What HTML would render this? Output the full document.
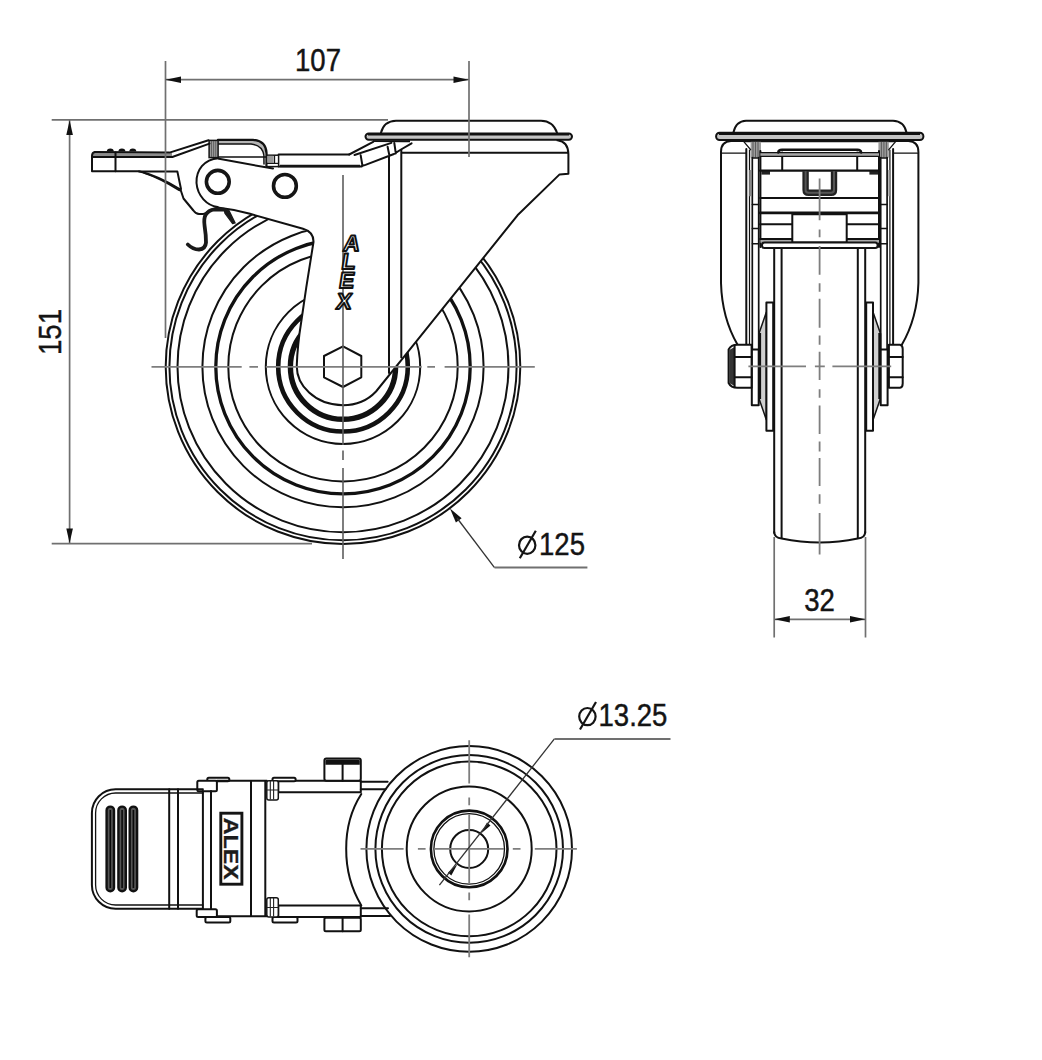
<!DOCTYPE html>
<html><head><meta charset="utf-8">
<style>
html,body{margin:0;padding:0;background:#fff;overflow:hidden}
svg{display:block}
.k{fill:none;stroke:#111;stroke-width:2;stroke-linejoin:round;stroke-linecap:round}
.kw{fill:#fff;stroke:#111;stroke-width:2;stroke-linejoin:round}
.t{fill:none;stroke:#151515;stroke-width:2.6;stroke-linecap:round}
.d{fill:none;stroke:#707070;stroke-width:1.7}
.c{fill:none;stroke:#7e7e7e;stroke-width:1.8}
.ar{fill:#111;stroke:none}
text{font-family:"Liberation Sans",sans-serif;fill:#141414;stroke:#141414;stroke-width:0.45}
</style></head><body>
<svg width="1042" height="1060" viewBox="0 0 1042 1060">
<rect x="0" y="0" width="1042" height="1060" fill="#fff"/>

<!-- ================= LEFT VIEW ================= -->
<g id="left">
  <!-- wheel circles -->
  <g class="k">
    <circle cx="343" cy="366.7" r="177.3"/>
    <circle cx="343" cy="366.7" r="173.6"/>
    <circle cx="343" cy="366.7" r="165.5"/>
    <circle cx="343" cy="366.7" r="140.6"/>
    <circle cx="343" cy="366.7" r="127.2" stroke-width="3.3"/>
    <circle cx="343" cy="366.7" r="114.7"/>
    <circle cx="343" cy="366.7" r="77.2"/>
    <circle cx="343" cy="366.7" r="64.8" stroke-width="4.6"/>
    <circle cx="343" cy="366.7" r="52.6" stroke-width="5.4"/>
  </g>
  <!-- occluder: fork + plate + lever -->
  <path fill="#fff" stroke="none" d="M92,152 L168,152.5 L207,140.5 L253,139.8 Q266,142 266.5,153 L349,154.3 L373,141.5 L566,140 Q569,143 569,152 L568.4,173.8 L559.6,174.4 L517.5,215.3 L376,391.5 C368,400 356,405.2 343,405.2 C315,405.2 296,385 296.8,365 Q297.5,345 301.2,322 L306.2,287.8 L313.5,242 Q314,233 304.7,230.6 L250,213.8 Q235,209.5 217.6,207.8 L210.2,210.5 Q207,213 202.8,214.1 L199,214.1 Q196,214 193.4,210.5 L183,198 L180,189 C168,182 155,175 139,171.3 L92,171.3 Z"/>

  <!-- fork outline -->
  <path class="k" d="M217.6,207.5 Q235,209.5 250,213.8 L303,228.8 Q313.8,232 313.5,242 L306.2,287.8 L301.2,322 Q297.5,345 296.8,365 C296,385 315,405.2 343,405.2 C356,405.2 368,400 376,391.5 L402.5,358.7 L517.5,215.3 L559.6,174.4 L568.4,173.8 L568.4,154 Q568,141.5 557.5,140.3"/>
  <!-- stem lines -->
  <line class="k" x1="389" y1="155" x2="389" y2="373"/>
  <line class="k" x1="401.3" y1="149.5" x2="401.3" y2="357.5"/>
  <!-- horizontal head line -->
  <line class="k" x1="402" y1="152.8" x2="568" y2="152.8"/>
  <!-- top plate -->
  <path class="k" d="M381,132.8 Q384,121 396,120.8 L541,120.8 Q553,121 557,132.8"/>
  <!-- flange -->
  <rect class="kw" x="365.5" y="133.4" width="206.5" height="6.4" rx="3.2" style="fill:#c4c4c4"/>
  <line x1="368" y1="134.2" x2="569" y2="134.2" stroke="#111" stroke-width="2.4"/>
  <line x1="373" y1="141.2" x2="410" y2="141.2" stroke="#111" stroke-width="2"/>
  <!-- wedge (lever end) -->
  <path fill="#fff" d="M349.2,154.3 L373.2,141.9 L411.6,143.3 L401,149.5 L393.3,154.3 L365.5,164.9 L361.7,165.9 L349.2,165.9 Z"/>
  <path class="k" d="M349.2,154.5 L373.2,141.9 M354.5,155 L391.4,142.9 M361.7,166 L365.5,164.9 L393.3,154.3 L401,149.5 L411.6,143.3 M360.7,155.3 L362.3,164.9 M387.6,146.7 L389.2,154.5 M394.3,143 L395.8,153.4"/>
  <!-- top bar -->
  <path class="k" d="M278.6,154.6 L349.2,154.6 M278.6,166.4 L361.7,166.4"/>
  <line x1="280" y1="166" x2="360" y2="166" stroke="#151515" stroke-width="2.4"/>
  <!-- hooked lever top bar -->
  <path fill="#b4b4b4" stroke="none" d="M218,140.5 L253,140.5 Q265,142 265.8,153 L263.9,154.2 Q262,144 251,144 L218,144 Z"/>
  <path class="k" d="M218,139.8 L253,139.8 Q266,141 266.5,153 L266.5,166.3" style="stroke-width:2.3"/>
  <path class="k" d="M218,144 L251,144 Q262,145 263.9,155 L264,164 M218,157 L266.5,157" style="stroke-width:1.5"/>
  <!-- hatched blocks -->
  <rect x="209.1" y="140.4" width="9" height="17.2" fill="#9a9a9a" stroke="#151515" stroke-width="1.5"/>
  <path d="M211.5,141 V157 M213.6,141 V157 M215.7,141 V157" stroke="#555" stroke-width="0.8"/>
  <rect x="266.8" y="155.2" width="11.8" height="11.4" fill="#fff" stroke="#151515" stroke-width="1.5"/>
  <rect x="267.5" y="155.8" width="6" height="7" fill="#9a9a9a"/>
  <line x1="274.5" y1="155.5" x2="274.5" y2="163" stroke="#151515" stroke-width="1.3"/>
  <line x1="267" y1="163.4" x2="278.4" y2="163.4" stroke="#151515" stroke-width="1.2"/>
  <!-- lever arm -->
  <path fill="#8c8c8c" stroke="none" d="M93,153 L168,153.2 L172,153 L172,156.8 L93,156.8 Z"/>
  <path class="k" d="M95,152 L169.5,152.6 L208.5,140.3 M92.5,157 L172.3,157 L209.5,143.6"/>
  <path class="k" d="M95,152 Q92,152.3 92,156 L92,171.3 L139,171.3 C155,175 168,182 180.5,189.5 L183.5,198.5 L193.4,210.5 Q196,214 199,214.1 L202.8,214.1 Q207,213 210.2,210.5 L217.6,207.5"/>
  <line class="k" x1="115.5" y1="152.4" x2="115.5" y2="171.3"/>
  <path class="k" d="M144,173 C158,177.5 169,184 179.5,190.5" style="stroke-width:1.5"/>
  <path class="k" d="M139,171.6 L177.4,171.6 L181,189"/>
  <path class="ar" d="M106.8,151.6 A3.5,3.2 0 0 1 113.8,151.6 Z M118.4,151.6 A3.5,3.2 0 0 1 125.4,151.6 Z M129.3,151.6 A3.5,3.2 0 0 1 136.3,151.6 Z"/>
  <!-- pivot plate -->
  <path class="k" d="M219,158.8 L273,168.6"/>
  <path class="k" d="M218.5,158.3 C204,159.5 196,170 196.5,183 C197.5,196 207,205.5 217.6,207"/>
  <circle cx="217.8" cy="181.8" r="11.4" fill="none" stroke="#151515" stroke-width="3.6"/>
  <circle cx="284.9" cy="185.9" r="11.4" fill="none" stroke="#151515" stroke-width="3.6"/>
  <!-- spring -->
  <path fill="none" stroke="#1a1a1a" stroke-width="3.8" stroke-linecap="round" stroke-linejoin="round" d="M187.8,244.5 Q193,249.5 199,249.5 Q205.5,249 206,242.5 Q206,235 204.6,226 Q203.6,218.5 205.5,215 Q208.5,210 214.5,209.3 L224,209.6"/>
  <path fill="#1a1a1a" stroke="#1a1a1a" stroke-width="1.2" stroke-linejoin="round" d="M224,209 L229,210.5 L235.2,223 L232.6,223.6 L225,213.5 Z"/>
  <!-- hex nut -->
  <path class="kw" d="M343,346.3 L361.3,356 L361.3,377.3 L343,387 L324,377.3 L324,356 Z"/>
  <!-- centerlines -->
  <g class="c">
    <path d="M151.5,366.9 H241.7 M249.4,366.9 H258 M265.7,366.9 H421.6 M427.3,366.9 H435 M444.6,366.9 H534.8"/>
    <path d="M343,175 V445 M343,450.5 V460 M343,468 V559" style="stroke:#5e5e5e;stroke-width:1.6"/>
  </g>
  <!-- ALEX side logo -->
  <g font-family="Liberation Sans" font-weight="bold" font-size="22.5">
    <text transform="translate(342.6,251) skewX(-9)" style="fill:#fff;stroke:#111;stroke-width:2;stroke-linejoin:round">A</text>
    <text transform="translate(340.8,269) skewX(-9)" style="fill:#fff;stroke:#111;stroke-width:2;stroke-linejoin:round">L</text>
    <text transform="translate(338.3,287.8) skewX(-9)" style="fill:#fff;stroke:#111;stroke-width:2;stroke-linejoin:round">E</text>
    <text transform="translate(335.6,308.8) skewX(-9)" style="fill:#fff;stroke:#111;stroke-width:2;stroke-linejoin:round">X</text>
  </g>
</g>

<!-- ================= RIGHT VIEW ================= -->
<g id="right">
  <!-- top plate -->
  <path class="k" d="M733.4,132.5 Q736,121 746,120.7 L893,120.7 Q904,121 906.5,132.5"/>
  <rect class="kw" x="716.1" y="132.8" width="207.3" height="7.2" rx="3.5" style="fill:#c4c4c4"/>
  <line x1="719" y1="133.8" x2="920" y2="133.8" stroke="#111" stroke-width="2.4"/>
  <line x1="745" y1="141.2" x2="894" y2="141.2" stroke="#111" stroke-width="2"/>
  <g id="rhalf">
    <!-- outer fork curve -->
    <path class="k" d="M745,141.1 L731,141.1 Q721,141.5 721,152 L721,283 Q722,318 737.6,344.8"/>
    <line class="k" x1="722" y1="153.2" x2="746" y2="153.2" style="stroke-width:1.2"/>
    <!-- leg lines -->
    <path d="M750.6,141.8 H761 V157.7 H750.6 Z" fill="#9c9c9c"/>
    <path d="M753,142 V157.5 M755.5,142 V157.5 M758,142 V157.5" stroke="#555" stroke-width="0.9"/>
    <line class="k" x1="746.3" y1="149" x2="746.3" y2="344.8" style="stroke-width:2"/>
    <line class="k" x1="749.5" y1="150" x2="749.5" y2="344.8" style="stroke-width:1.2"/>
    <path d="M749.2,170 H751 V196.2 H749.2 Z" fill="#888"/>
    <line class="k" x1="752.3" y1="157.7" x2="752.3" y2="349.4" style="stroke-width:1.7"/>
    <line class="k" x1="758.7" y1="157.7" x2="758.7" y2="349.4" style="stroke-width:1.7"/>
    <path class="k" d="M752.3,158 H758.7 M752.3,204.5 H758.7 M752.3,228.5 H758.7 M752.3,243.8 H758.7" style="stroke-width:1.4"/>
    <path class="k" d="M744,141.8 L750.6,149.7" style="stroke-width:1.3"/>
    <!-- inner box wall -->
    <line class="k" x1="760.4" y1="151" x2="760.4" y2="247"/>
    <path class="k" d="M782.2,152.5 V170"/>
    <rect x="761.4" y="171.1" width="8.6" height="3.5" fill="#222"/>
    <rect x="760.4" y="239.1" width="32" height="3.6" fill="#aaa"/>
    <path class="k" d="M760.1,224.3 H792.3 M760.1,239.1 H792.3"/>
    <!-- tire lines -->
    <line class="k" x1="774.2" y1="249" x2="774.2" y2="533"/>
    <line class="k" x1="781.6" y1="249" x2="781.6" y2="538"/>
    <!-- hub -->
    <path d="M766.4,312 L758.8,334 L758.8,398 L766.4,420 Z" fill="#cfcfcf" stroke="#151515" stroke-width="1.5"/>
    <line x1="759.8" y1="333" x2="759.8" y2="399" stroke="#111" stroke-width="2.6"/>
    <rect class="kw" x="766.4" y="302.6" width="6.8" height="128.2"/>
    <!-- washer -->
    <rect class="kw" x="751.8" y="349.4" width="6.9" height="55.8"/>
  </g>
  <use href="#rhalf" transform="translate(1639.4,0) scale(-1,1)"/>
  <!-- left nut (with chamfer) -->
  <path class="kw" d="M737.3,344.8 L751.6,344.8 L751.6,387.8 L737.3,387.8 Q731,387.8 728.6,383 L728.6,349.5 Q731,344.8 737.3,344.8 Z"/>
  <path d="M729.2,350 L734.6,347 L734.6,386 L729.2,383 Z" fill="#333"/>
  <path class="k" d="M734.6,357 H751.6 M734.6,377.2 H751.6 M734.6,346 V387"/>
  <!-- right nut -->
  <path class="kw" d="M888.9,344.8 L900,344.8 Q902.7,345.5 902.7,349 L902.7,383.5 Q902.7,387.3 900,387.8 L888.9,387.8 Z"/>
  <path class="k" d="M888.9,357 H902.7 M888.9,377.2 H902.7"/>
  <!-- inner structure -->
  <rect x="760.4" y="152.6" width="118.6" height="3.8" fill="#a8a8a8"/>
  <path class="k" d="M760.4,152.6 H879 M760.4,156.4 H879" style="stroke-width:1.4"/>
  <path class="k" d="M778.2,152.5 Q778.5,149.8 782,149.8 L857.5,149.8 Q860.8,149.8 861.2,152.5" style="stroke-width:2.4"/>
  <line class="k" x1="760.1" y1="170.6" x2="879.1" y2="170.6" style="stroke-width:2.4"/>
  <path d="M805.6,171.3 L805.6,190 Q805.6,192.8 808.5,192.8 L831.2,192.8 Q834,192.8 834,190 L834,171.3" fill="none" stroke="#222" stroke-width="6.4"/>
  <path d="M805.6,171.3 L805.6,190 Q805.6,192.8 808.5,192.8 L831.2,192.8 Q834,192.8 834,190 L834,171.3" fill="none" stroke="#555" stroke-width="2"/>
  <line class="k" x1="760.1" y1="198.1" x2="879.1" y2="198.1"/>
  <line class="k" x1="760.1" y1="212.9" x2="879.1" y2="212.9" style="stroke-width:2.6"/>
  <rect class="kw" x="792.3" y="214.3" width="54.4" height="28.2"/>
  <rect x="762" y="242.5" width="115.6" height="5.4" rx="2.5" fill="#fff" stroke="#151515" stroke-width="2"/>
  <!-- tire bottom -->
  <path class="k" d="M774.2,532 Q774.5,538 781.6,538.5 Q820,546.5 857.8,538.5 Q865,538 865.2,532"/>
  <!-- centerlines -->
  <path class="c" d="M748.4,366.4 H806 M814.9,366.4 H824.8 M832.4,366.4 H891.2"/>
  <path class="c" d="M819.6,178.5 V220.2 M819.6,229.4 V237.2 M819.6,246.0 V274.7 M819.6,283.2 V291.7 M819.6,298.8 V327.7 M819.6,335.5 V344.7 M819.6,351.8 V380.1 M819.6,389.3 V397.8 M819.6,405.6 V433.9 M819.6,441.6 V451.5 M819.6,458.0 V486.0 M819.6,494.3 V503.7 M819.6,513.0 V554.5"/>
</g>

<!-- ================= BOTTOM VIEW ================= -->
<g id="bottom">
  <!-- circles -->
  <g class="k">
    <circle cx="469.2" cy="848.9" r="102.8"/>
    <circle cx="469.2" cy="848.9" r="93.8"/>
    <circle cx="469.2" cy="848.9" r="87.3"/>
    <circle cx="469.2" cy="848.9" r="62.5"/>
    <circle cx="469.2" cy="848.9" r="38.3" stroke-width="2.6"/>
    <circle cx="469.2" cy="848.9" r="35.3" stroke-width="1.3"/>
    <circle cx="469.2" cy="848.9" r="19"/>
  </g>
  <path class="c" d="M360.5,848.9 H403.6 M417.9,848.9 H425.6 M434.5,848.9 H504 M512.8,848.9 H520.5 M534.8,848.9 H576.9"/>
  <path class="c" d="M469.2,740.2 V783.4 M469.2,797.6 V805.3 M469.2,814.2 V883.7 M469.2,892.6 V900.3 M469.2,914.5 V957.2"/>
  <!-- arrows for 13.25 -->
  <path class="ar" d="M481,833.5 L490.5,825.6 L487,822.5 Z"/>
  <path class="ar" d="M457.4,864.3 L448,872.4 L451.3,875.5 Z"/>
  <!-- body arc (r=122) -->
  <path class="k" d="M361.3,794 Q346,818 346.2,848.8 Q346,880 361.3,905.4"/>
  <!-- legs -->
  <g id="btop">
    <path class="kw" d="M278.3,780.7 H360.8 V792.2 H278.3 Z"/>
    
    <path class="k" d="M360.8,781.7 H387.6 M360.8,789.3 H385.5"/>
    <rect class="kw" x="324.4" y="758.6" width="36.4" height="22.1" rx="2"/>
    <path d="M325.4,764.8 V761 Q325.4,759.6 327,759.6 H358.2 Q359.8,759.6 359.8,761 V764.8 Z" fill="#111"/>
    <line class="k" x1="342.6" y1="761" x2="342.6" y2="780.7"/>
    <rect class="kw" x="272.5" y="777.8" width="23.1" height="3.5" rx="1.5"/>
    <rect class="kw" x="207.3" y="777.8" width="22" height="3.5" rx="1.5"/>
    <rect x="266.8" y="780.7" width="11.5" height="19.3" rx="2" fill="#fff" stroke="#151515" stroke-width="1.5"/>
    <path d="M270.3,781 V799.5 M273.6,781 V799.5 M266.8,790 H278.3" stroke="#222" stroke-width="1.1"/>
    <rect class="kw" x="197.3" y="780.7" width="19.6" height="10.6" rx="1.5"/>
  </g>
  <g id="bbot">
    <path class="kw" d="M278.3,905.4 H360.8 V916.9 H278.3 Z"/>
    <path class="k" d="M360.8,908.2 H388 M360.8,915.9 H390"/>
    <rect class="kw" x="324.4" y="917.8" width="36.4" height="13.5" rx="1.5"/>
    <line class="k" x1="342.6" y1="917.8" x2="342.6" y2="931.3"/>
    <rect class="kw" x="272.5" y="916.9" width="25" height="5.7" rx="1.5"/>
    <rect class="kw" x="205.4" y="916.9" width="24.9" height="5.7" rx="1.5"/>
    <rect x="266.8" y="897.7" width="11.5" height="19.2" rx="2" fill="#fff" stroke="#151515" stroke-width="1.5"/>
    <path d="M270.3,898 V916.5 M273.6,898 V916.5 M266.8,907.5 H278.3" stroke="#222" stroke-width="1.1"/>
    <rect class="kw" x="196.7" y="909.2" width="20.2" height="7.7" rx="1.5"/>
  </g>
  <!-- body -->
  <path class="k" d="M216.9,780.7 H266.8 M216.9,916.2 H266.8"/>
  <line class="k" x1="251" y1="781" x2="251" y2="916"/>
  <line class="k" x1="265.3" y1="781" x2="265.3" y2="916"/>
  <line class="k" x1="211" y1="791" x2="211" y2="909"/>
  <line class="k" x1="202.9" y1="791" x2="202.9" y2="909"/>
  <!-- ALEX label -->
  <rect x="220.8" y="813.2" width="21.1" height="71" fill="#fff" stroke="#141414" stroke-width="2.9"/>
  <text transform="translate(224,848.7) rotate(90)" x="0" y="0" font-size="20.5" font-weight="bold" text-anchor="middle" style="fill:#1c1c1c;stroke:#1c1c1c;stroke-width:0.3" textLength="62" lengthAdjust="spacingAndGlyphs">ALEX</text>
  <!-- pedal -->
  <path class="k" d="M202.9,789.3 L115.6,789.3 A23.7,23.7 0 0 0 91.9,813 L91.9,885 A23.7,23.7 0 0 0 115.6,908.7 L202.9,908.7"/>
  <path class="k" d="M202.9,793 L115.6,793 A20,20 0 0 0 95.6,813 L95.6,885 A20,20 0 0 0 115.6,905 L202.9,905" style="stroke-width:1.3"/>
  <line class="k" x1="169.2" y1="789.3" x2="169.2" y2="908.7"/>
  <line class="k" x1="178" y1="789.3" x2="178" y2="908.7"/>
  <g fill="#555" stroke="#111" stroke-width="2.4">
    <rect x="106.6" y="806.6" width="7.4" height="84.6" rx="3.7"/>
    <rect x="118.4" y="806.6" width="7.4" height="84.6" rx="3.7"/>
    <rect x="129.7" y="806.6" width="7.4" height="84.6" rx="3.7"/>
  </g>
  <path d="M110.3,810 V888 M122.1,810 V888 M133.4,810 V888" stroke="#0a0a0a" stroke-width="1.6"/>
</g>
<!-- ================= DIMENSIONS ================= -->
<g id="dims">
  <!-- 107 -->
  <line class="d" x1="165.5" y1="61" x2="165.5" y2="338"/>
  <line class="d" x1="469" y1="61" x2="469" y2="157"/>
  <line class="d" x1="166" y1="79.7" x2="468.5" y2="79.7"/>
  <path class="ar" d="M165.5,79.7 L181,76.4 L181,83 Z"/>
  <path class="ar" d="M469,79.7 L453.5,76.4 L453.5,83 Z"/>
  <text transform="translate(318,71) scale(0.9,1)" font-size="30.6" text-anchor="middle">107</text>
  <!-- 151 -->
  <line class="d" x1="51.7" y1="119.8" x2="388" y2="119.8"/>
  <line class="d" x1="51.7" y1="543.6" x2="312" y2="543.6"/>
  <line class="d" x1="69.6" y1="120" x2="69.6" y2="543.4"/>
  <path class="ar" d="M69.6,120.2 L66.3,135 L72.9,135 Z"/>
  <path class="ar" d="M69.6,543.2 L66.3,528.4 L72.9,528.4 Z"/>
  <text transform="translate(61,332) rotate(-90) scale(0.9,1)" font-size="30.6" text-anchor="middle">151</text>
  <!-- dia 125 -->
  <path class="ar" d="M450,508.4 L455.9,522.6 L461.6,518.3 Z"/>
  <line x1="457" y1="518" x2="494.5" y2="567.6" stroke="#333" stroke-width="1.3"/>
  <line class="d" x1="494.5" y1="567.6" x2="587.4" y2="567.6" style="stroke-width:2"/>
  <g fill="none" stroke="#141414" stroke-width="2.2"><ellipse cx="527.2" cy="545.2" rx="8.2" ry="8.6"/><line x1="519.8" y1="558.3" x2="535.8" y2="530.7"/></g>
  <text transform="translate(539,554.8) scale(0.9,1)" font-size="30.6">125</text>
  <!-- 32 -->
  <line class="d" x1="774.2" y1="537" x2="774.2" y2="637.5"/>
  <line class="d" x1="865.5" y1="537" x2="865.5" y2="637.5"/>
  <line class="d" x1="775" y1="619.3" x2="865" y2="619.3"/>
  <path class="ar" d="M774.4,619.3 L789.8,616 L789.8,622.6 Z"/>
  <path class="ar" d="M865.3,619.3 L850,616 L850,622.6 Z"/>
  <text transform="translate(819.5,610.8) scale(0.9,1)" font-size="30.6" text-anchor="middle">32</text>
  <!-- dia 13.25 -->
  <line x1="439.4" y1="885.1" x2="554.4" y2="738.9" stroke="#333" stroke-width="1.3"/>
  <line class="d" x1="554.4" y1="739.1" x2="670.5" y2="739.1" style="stroke-width:2"/>
  <g fill="none" stroke="#141414" stroke-width="2.2"><ellipse cx="587.4" cy="716.6" rx="8.2" ry="8.6"/><line x1="580" y1="729.5" x2="596" y2="702"/></g>
  <text transform="translate(598.5,726.3) scale(0.9,1)" font-size="30.6">13.25</text>
</g>

</svg>
</body></html>
